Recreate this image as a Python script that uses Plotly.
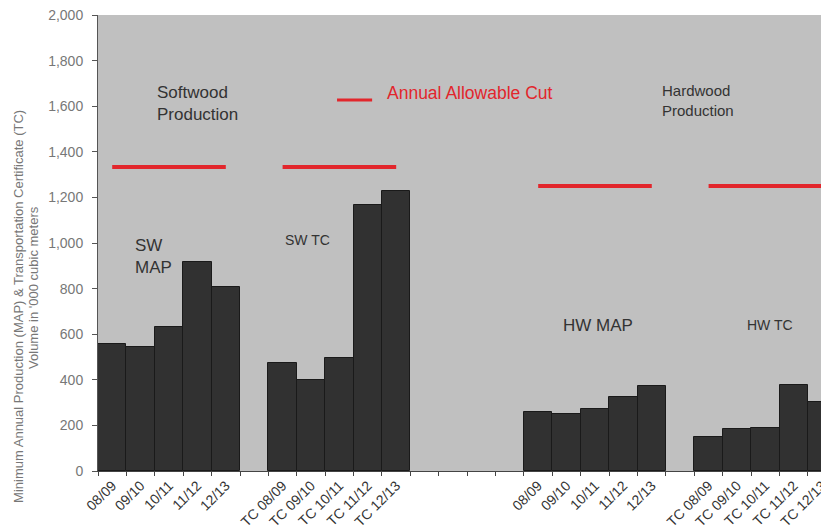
import plotly.graph_objects as go

# ---- data ----
sw_years = ["08/09", "09/10", "10/11", "11/12", "12/13"]
tc_years = ["TC 08/09", "TC 09/10", "TC 10/11", "TC 11/12", "TC 12/13"]

sw_map = [557, 545, 633, 918, 806]
sw_tc = [475, 399, 494, 1167, 1230]
hw_map = [257, 250, 272, 323, 373]
hw_tc = [151, 184, 187, 377, 304]

sw_aac = [1333, 1333, 1333, 1333, 1333]
hw_aac = [1250, 1250, 1250, 1250, 1250]

gap1 = [None]
gap4 = [None, None, None, None]

categories = sw_years + [""] + tc_years + ["", "", "", ""] + sw_years + [""] + tc_years
volumes = sw_map + gap1 + sw_tc + gap4 + hw_map + gap1 + hw_tc
aac = sw_aac + gap1 + sw_aac + gap4 + hw_aac + gap1 + hw_aac

xpos = list(range(len(categories)))
tick_pos = [x for x, c in zip(xpos, categories) if c]
tick_txt = [c for c in categories if c]

FONT = "Liberation Sans, Arial, sans-serif"
RED = "#e2262c"

fig = go.Figure()
fig.add_trace(go.Bar(
    x=xpos, y=volumes, width=1,
    marker=dict(color="#313131", line=dict(color="#1a1a1a", width=1)),
    showlegend=False, name="Volume",
))
fig.add_trace(go.Scatter(
    x=xpos, y=aac, mode="lines", connectgaps=False,
    line=dict(color=RED, width=4),
    name="Annual Allowable Cut", showlegend=False,
))

notes = [
    ("Softwood<br>Production", 1.5, 1614, 17),
    ("SW<br>MAP", 0.72, 939, 17),
    ("SW TC", 6.0, 1013, 14),
    ("HW MAP", 15.8, 640, 17),
    ("HW TC", 22.28, 640, 14),
    ("Hardwood<br>Production", 19.28, 1623, 15),
]
for txt, x, y, s in notes:
    fig.add_annotation(text=txt, x=x, y=y, xref="x", yref="y", showarrow=False,
                       xanchor="left", align="left",
                       font=dict(family=FONT, color="#333333", size=s))

# legend (manual, as in the reference)
fig.add_shape(type="line", xref="paper", yref="paper", x0=0.327, x1=0.375,
              y0=0.8136, y1=0.8136, line=dict(color=RED, width=3))
fig.add_annotation(text="Annual Allowable Cut", xref="paper", yref="paper",
                   x=0.393, y=0.829, xanchor="left", yanchor="middle", showarrow=False,
                   font=dict(family=FONT, size=17.5, color=RED))

# y-axis title (two lines)
fig.add_annotation(
    text="Minimum Annual Production (MAP) & Transportation Certificate (TC)",
    xref="paper", yref="paper", x=-0.108, y=0.36, textangle=-90, showarrow=False,
    xanchor="center", yanchor="middle",
    font=dict(family=FONT, size=13, color="#777777"),
)
fig.add_annotation(
    text="Volume in '000 cubic meters",
    xref="paper", yref="paper", x=-0.089, y=0.4035, textangle=-90, showarrow=False,
    xanchor="center", yanchor="middle",
    font=dict(family=FONT, size=13, color="#777777"),
)

fig.update_layout(
    width=821, height=522,
    margin=dict(l=90, r=0, t=7, b=59),
    paper_bgcolor="white", plot_bgcolor="#c0c0c0",
    bargap=0,
    font=dict(family=FONT),
    showlegend=False,
    xaxis=dict(
        range=[-0.5, 25.24], tickmode="array", tickvals=tick_pos, ticktext=tick_txt,
        tickangle=-45, ticks="", showgrid=False, zeroline=False, automargin=False,
        ticklabeloverflow="allow",
        showline=True, linecolor="#444444", linewidth=1,
        tickfont=dict(size=14, color="#333333", family=FONT),
        minor=dict(ticks="outside", tickmode="linear", tick0=0.5, dtick=1,
                   ticklen=4, tickcolor="#444444", showgrid=False),
    ),
    yaxis=dict(
        range=[0, 2000], dtick=200, tickformat=",", ticks="outside", ticklen=5,
        tickcolor="#555555", showgrid=False, zeroline=False, automargin=False,
        ticklabeloverflow="allow", ticklabelstandoff=6,
        showline=True, linecolor="#555555", linewidth=1,
        tickfont=dict(size=14, color="#777777", family=FONT),
    ),
)

fig.write_html("out.html")
